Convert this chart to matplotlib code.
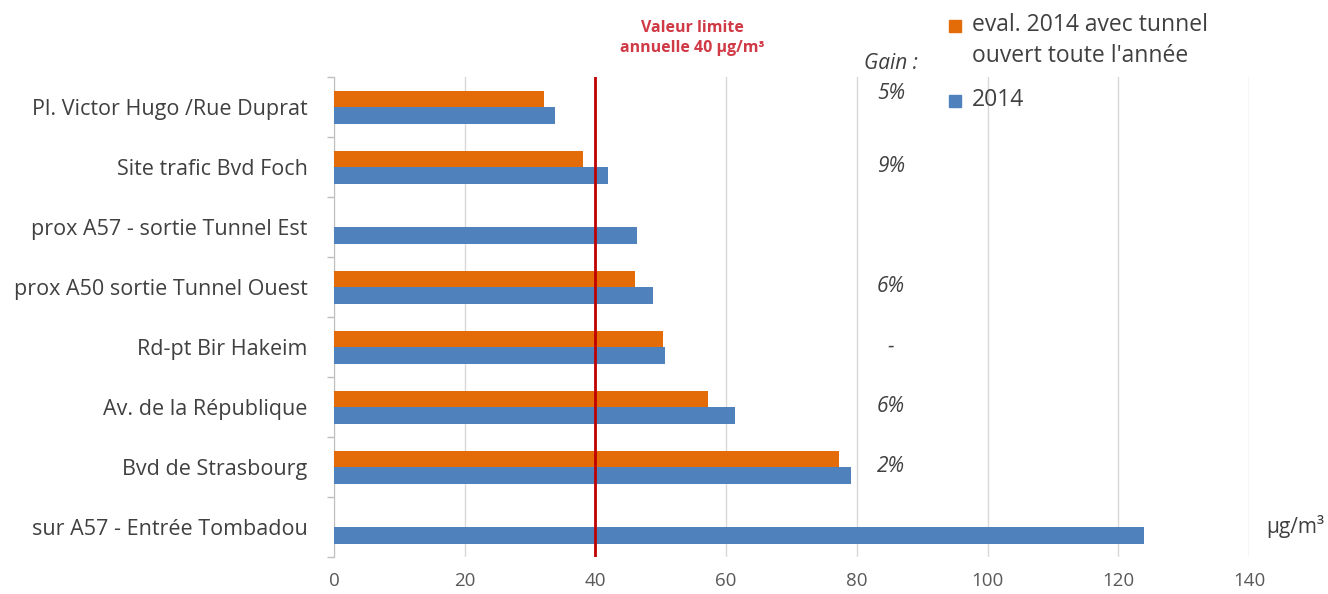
import matplotlib
matplotlib.use("Agg")
import matplotlib.pyplot as plt
from matplotlib.patches import Rectangle

categories = [
    "Pl. Victor Hugo /Rue Duprat",
    "Site trafic Bvd Foch",
    "prox A57 - sortie Tunnel Est",
    "prox A50 sortie Tunnel Ouest",
    "Rd-pt Bir Hakeim",
    "Av. de la République",
    "Bvd de Strasbourg",
    "sur A57 - Entrée Tombadou",
]
eval_2014_tunnel = [32.1, 38.1, None, 46.1, 50.4, 57.2, 77.3, None]
values_2014 = [33.8, 41.9, 46.4, 48.8, 50.6, 61.4, 79.1, 124.0]
gains = ["5%", "9%", "", "6%", "-", "6%", "2%", ""]
x_ticks = [0, 20, 40, 60, 80, 100, 120, 140]
limit_value = 40
series_labels = ["eval. 2014 avec tunnel\nouvert toute l'année", "2014"]

ORANGE = "#E36C09"
BLUE = "#4F81BD"
TXT = "#404040"
FONT = "Open Sans"

plt.rcParams["font.family"] = [FONT, "DejaVu Sans"]

W, H = 1328, 594
fig = plt.figure(figsize=(W/100, H/100), dpi=100)
ax = fig.add_axes([334/W, 37/H, 915/W, 480/H])

n = len(categories)
ypos = list(range(n))
h = 0.275
for i in range(n):
    if eval_2014_tunnel[i] is not None:
        ax.barh(i - h/2, eval_2014_tunnel[i], height=h, color=ORANGE, zorder=3)
    ax.barh(i + h/2, values_2014[i], height=h, color=BLUE, zorder=3)

ax.set_ylim(n - 0.5, -0.5)
ax.set_xlim(0, 140)
ax.set_xticks(x_ticks)
ax.set_xticklabels([str(t) for t in x_ticks], fontsize=13.5, color="#595959")
ax.set_yticks(ypos)
ax.set_yticklabels(categories, fontsize=15.5, color=TXT)
ax.set_yticks([i + 0.5 for i in range(-1, n)], minor=True)
ax.tick_params(axis="y", which="major", length=0, pad=19)
ax.tick_params(axis="y", which="minor", length=5, color="#BFBFBF", width=1)
ax.tick_params(axis="x", length=0, pad=11)
ax.grid(axis="x", color="#D9D9D9", linewidth=1, zorder=0)
for s in ["top", "right", "bottom"]:
    ax.spines[s].set_visible(False)
ax.spines["left"].set_color("#BFBFBF")
ax.set_axisbelow(True)

ax.axvline(limit_value, color="#C00000", linewidth=2, zorder=4)
fig.text(692/W, 1 - 38/H, "Valeur limite\nannuelle 40 µg/m³", color="#D03A46",
         fontsize=11.5, fontweight="bold", ha="center", va="center", linespacing=1.4)

ax.text(85.2, -0.72, "Gain :", fontsize=15, style="italic", color=TXT, ha="center", va="center")
for i, g in enumerate(gains):
    if g:
        y = i - 0.23 if i == 0 else i
        ax.text(85.2, y, g, fontsize=15, style="italic", color=TXT, ha="center", va="center")

fig.text(1295/W, 1 - 527/H, "µg/m³", fontsize=15, color=TXT, ha="center", va="center")

# legend drawn manually
sq = 12
for (yc, col, lab) in [(26, ORANGE, series_labels[0]), (101, BLUE, series_labels[1])]:
    fig.patches.append(Rectangle(((955 - sq/2)/W, 1 - (yc + sq/2)/H), sq/W, sq/H,
                                 transform=fig.transFigure, color=col, figure=fig))
    fig.text(972/W, 1 - (yc - 13)/H, lab, fontsize=16.5, color=TXT, ha="left", va="top",
             linespacing=1.4)

fig.savefig("out.png", dpi=100)
